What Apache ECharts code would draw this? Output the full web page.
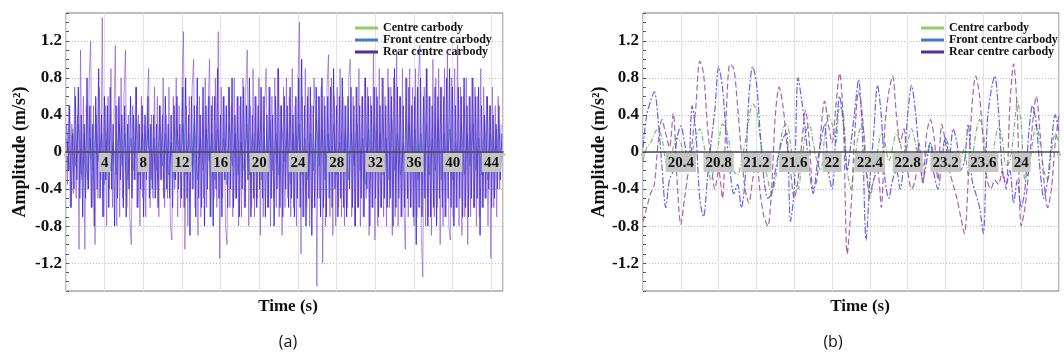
<!DOCTYPE html>
<html>
<head>
<meta charset="utf-8">
<title>Carbody vibration</title>
<script src="https://cdn.jsdelivr.net/npm/echarts/dist/echarts.min.js"></script>
<style>
    html, body { margin: 0; padding: 0; background: #fff; }
    #main { width: 1064px; height: 355px; }
</style>
</head>
<body>
<div id="main"></div>
<script>

    // series names (legend)
    var names = ['Centre carbody', 'Front centre carbody', 'Rear centre carbody']

    // (a) whole record
    var stepCentreA = 0.3
    var stepA = 0.15
    var centreA = [
        0.1, -0.2, 0.25, -0.15, 0.3, -0.25, 0.2, -0.3, 0.15, -0.2,
        0.3, -0.1, 0.2, -0.35, 0.25, -0.2, 0.1, -0.25, 0.3, -0.15,
        0.2, -0.3, 0.15, -0.2, 0.35, -0.25, 0.2, -0.1, 0.25, -0.3,
        0.15, -0.2, 0.3, -0.15, 0.2, -0.25, 0.1, -0.3, 0.25, -0.2,
        0.3, -0.25, 0.2, -0.15, 0.35, -0.3, 0.15, -0.2, 0.25, -0.1,
        0.2, -0.3, 0.25, -0.2, 0.15, -0.35, 0.3, -0.15, 0.2, -0.25,
        0.1, -0.2, 0.3, -0.25, 0.2, -0.15, 0.25, -0.3, 0.15, -0.2,
        0.35, -0.2, 0.2, -0.25, 0.3, -0.1, 0.25, -0.35, 0.2, -0.15,
        0.3, -0.25, 0.15, -0.3, 0.2, -0.2, 0.35, -0.15, 0.25, -0.3,
        0.2, -0.15, 0.3, -0.25, 0.1, -0.2, 0.25, -0.3, 0.2, -0.15,
        0.3, -0.2, 0.15, -0.35, 0.25, -0.2, 0.3, -0.15, 0.2, -0.25,
        0.15, -0.3, 0.35, -0.2, 0.2, -0.25, 0.1, -0.2, 0.3, -0.15,
        0.25, -0.3, 0.2, -0.15, 0.3, -0.25, 0.15, -0.2, 0.35, -0.3,
        0.2, -0.15, 0.25, -0.3, 0.1, -0.2, 0.3, -0.25, 0.2, -0.15,
        0.3, -0.2, 0.15, -0.25, 0.35, -0.3, 0.2, -0.15, 0.25, -0.2,
        0.1
    ]
    var frontA = [
        0.3, -0.2, 0.5, -0.6, 0.2, -0.4, 0.6, -0.3, 0.7, -0.5, 0.4, -0.7, 0.3, -0.5, 0.8, -0.4, 0.5, -0.6, 0.3, -0.8,
        0.6, -0.4, 0.9, -0.5, 0.4, -0.7, 0.6, -0.3, 0.5, -0.6, 0.7, -0.4, 0.3, -0.8, 0.5, -0.5, 0.6, -0.3, 0.4, -0.6,
        0.5, -0.7, 0.3, -0.4, 0.6, -0.5, 0.4, -0.3, 0.7, -0.6, 0.3, -0.4, 0.5, -0.7, 0.4, -0.3, 0.6, -0.5, 0.3, -0.4,
        0.4, -0.5, 0.3, -0.6, 0.5, -0.3, 0.4, -0.5, 0.6, -0.4, 0.3, -0.5, 0.4, -0.6, 0.5, -0.3, 0.6, -0.4, 0.3, -0.5,
        0.7, -0.6, 0.8, -0.5, 0.4, -0.9, 0.6, -0.4, 0.5, -0.7, 0.8, -0.5, 0.4, -0.6, 0.7, -0.8, 0.5, -0.4, 0.6, -0.7,
        0.5, -0.8, 0.6, -0.4, 0.9, -0.5, 0.4, -0.7, 0.6, -0.3, 0.5, -0.6, 0.7, -0.4, 0.8, -0.6, 0.4, -0.5, 0.6, -0.7,
        0.6, -0.4, 0.7, -0.6, 0.5, -0.3, 0.8, -0.7, 0.4, -0.5, 0.6, -0.6, 0.5, -0.4, 0.7, -0.5, 0.6, -0.7, 0.4, -0.6,
        0.7, -0.5, 0.4, -0.8, 0.6, -0.4, 0.9, -0.6, 0.5, -0.7, 0.6, -0.4, 0.5, -0.6, 0.7, -0.5, 0.4, -0.7, 0.6, -0.5,
        0.8, -0.6, 1.0, -0.7, 0.5, -0.8, 0.6, -0.5, 0.7, -0.9, 0.5, -0.6, 0.7, -0.5, 0.6, -0.7, 0.8, -0.6, 0.5, -0.7,
        0.6, -0.5, 0.7, -0.6, 0.9, -0.4, 0.5, -0.7, 0.6, -0.5, 0.8, -0.6, 0.5, -0.7, 0.6, -0.4, 0.7, -0.6, 0.5, -0.8,
        0.7, -0.6, 0.5, -0.5, 0.6, -0.7, 0.8, -0.4, 0.6, -0.8, 0.5, -0.6, 0.7, -0.5, 0.6, -0.7, 0.5, -0.6, 0.8, -0.5,
        0.5, -0.6, 0.7, -0.5, 0.6, -0.8, 0.9, -0.6, 0.7, -0.5, 0.6, -0.7, 0.5, -0.6, 0.8, -0.5, 0.7, -0.6, 0.5, -0.7,
        0.6, -1.0, 0.7, -0.6, 0.8, -0.7, 0.6, -0.5, 0.9, -0.8, 0.6, -0.7, 0.5, -0.6, 0.7, -0.8, 0.6, -0.5, 0.7, -0.6,
        0.6, -0.7, 0.8, -0.5, 0.9, -0.6, 0.7, -0.8, 0.5, -0.6, 0.7, -0.5, 0.6, -0.7, 0.8, -0.6, 0.5, -0.7, 0.6, -0.5,
        0.8, -0.6, 0.6, -0.5, 0.7, -0.9, 0.5, -0.6, 0.4, -0.5, 0.6, -0.4, 0.5, -0.6, 0.4, -0.5, 0.3, -0.4, 0.5, -0.3,
        0.2
    ]
    var rearA = [
        0.15, -0.35, 0.5, -0.6, 0.3, -0.45, 0.7, -0.5, 0.4, -1.05, 1.1, -0.3, 0.6, -1.05, 0.5, -0.4, 0.8, 1.2, -0.6, 0.5,
        -1.0, 0.4, -0.5, 0.7, -0.3, 1.45, -0.7, 0.5, -0.8, 0.6, -0.4, 0.9, -0.6, 0.3, 1.15, -0.8, 0.5, -0.7, 0.8, -0.5,
        0.6, 1.1, -0.6, 0.4, -0.7, -1.0, 0.5, -0.3, 0.7, -0.6, 0.4, -0.8, 0.6, -0.5, 0.3, -0.7, 0.5, 0.9, -0.6, 0.4,
        -0.5, 0.7, -0.4, 0.6, -0.7, 0.5, -0.3, 0.8, -0.6, 0.4, -0.5, 0.7, -0.8, -0.95, 0.6, -0.4, 0.8, -0.7, 0.5, -0.6,
        0.7, 1.3, -1.05, 0.5, -0.8, 0.6, -0.4, 0.7, 1.0, -0.6, 0.5, -0.9, 0.6, -0.7, 0.4, -0.5, 0.8, -0.6, 0.5, 1.0,
        -0.7, 0.6, -0.5, 0.8, -0.6, 1.3, -1.15, 0.7, -0.5, 0.6, -0.8, -1.0, 0.7, -0.6, 0.5, -0.7, 0.8, -0.5, 0.6, -0.8,
        0.5, -0.7, 0.8, -0.6, 0.7, 1.1, -0.8, 0.5, -0.6, 0.9, -0.7, 0.6, -0.5, 0.8, -0.9, 0.6, -0.7, 0.5, 0.9, -0.6,
        0.7, -0.8, 0.6, -0.5, 0.8, -0.6, 0.9, -0.7, 0.5, -0.9, 0.7, -0.6, 0.8, -0.5, 0.6, -0.7, 0.9, -0.6, 0.5, -0.8,
        0.8, 1.4, -1.1, 0.6, -0.7, 0.9, -0.6, 0.7, -0.8, 0.5, -0.6, 0.8, 0.4, -1.45, 0.6, -0.5, 0.7, -1.2, 0.6, -0.8,
        0.7, 1.05, -0.7, 0.8, -0.9, 0.6, -0.8, 0.7, -0.6, 0.9, -0.7, 0.6, -0.8, 0.5, -0.6, 0.8, 1.0, -0.7, 0.6, -0.8,
        0.7, -0.6, 0.9, -0.8, 0.6, -0.7, 0.8, -0.5, 0.7, -0.9, 0.6, -0.6, 1.1, -0.95, 0.7, -0.8, 0.9, -0.6, 0.8, -0.7,
        0.6, -0.8, 0.9, -0.6, 0.7, -0.9, 0.8, -0.7, 1.1, -0.8, 0.6, -0.7, 0.9, -0.6, -1.05, 0.8, -0.7, 0.9, -0.6, 0.7,
        -0.8, 0.9, -0.7, 0.8, 1.15, -0.9, -1.35, 0.7, -0.8, 0.9, -0.7, 0.6, -0.9, 1.0, -0.7, 0.8, -0.6, 0.9, -1.0, 0.7,
        -0.8, 0.9, -0.7, 1.1, -0.8, -0.95, 0.8, -0.7, 0.9, -0.6, 1.15, -0.8, 0.7, -0.9, 0.6, -0.7, 0.8, -1.0, 0.6, -0.7,
        0.8, -0.6, 0.7, -0.8, 0.6, -0.7, 0.9, -0.6, 0.7, -0.5, 0.6, -0.8, 0.5, -1.15, 0.7, -0.6, 0.5, -0.7, 0.6, -0.4,
        0.3
    ]

    // (b) zoom 20 s - 24.4 s, sampled every 0.04 s
    var startB = 20
    var stepB = 0.04
    var centreB = [
        -0.10, 0.05, 0.10, 0.20, 0.25, 0.15, -0.10, -0.20, 0.05, 0.15,
        0.10, -0.10, -0.20, 0.00, 0.15, 0.25, 0.10, -0.15, -0.30, -0.10,
        0.10, 0.30, 0.25, 0.05, -0.20, -0.25, -0.10, 0.10, 0.35, 0.52,
        0.45, 0.15, -0.10, -0.30, -0.45, -0.30, 0.00, 0.25, 0.30, 0.10,
        -0.30, -0.40, -0.10, 0.20, 0.30, 0.10, -0.10, -0.20, 0.15, 0.40,
        0.30, 0.10, 0.50, 0.40, -0.20, -0.40, -0.10, 0.20, 0.30, -0.10,
        -0.50, -0.30, 0.00, 0.20, 0.10, -0.10, 0.05, 0.20, 0.10, -0.10,
        0.10, 0.25, 0.10, -0.10, -0.15, 0.00, 0.10, -0.05, -0.20, 0.00,
        0.15, 0.05, -0.10, -0.20, -0.10, 0.05, -0.25, -0.10, 0.20, 0.35,
        0.20, -0.10, -0.20, 0.10, 0.27, 0.15, -0.15, -0.10, 0.20, 0.55,
        0.30, -0.30, -0.20, 0.10, 0.30, 0.10, -0.20, -0.30, 0.00, 0.20,
        0.10
    ]
    var frontB = [
        0.05, 0.40, 0.55, 0.65, 0.35, -0.15, -0.60, -0.30, -0.20, 0.15,
        0.28, 0.10, -0.20, 0.50, 0.20, -0.50, -0.70, -0.30, 0.10, 0.45,
        0.92, 0.70, 0.20, -0.20, -0.45, -0.35, -0.60, -0.30, 0.60, 0.92,
        0.75, 0.20, -0.30, -0.50, -0.45, -0.20, 0.00, 0.15, 0.20, -0.75,
        -0.40, 0.80, 0.55, 0.20, -0.20, -0.45, -0.15, 0.10, 0.30, -0.20,
        -0.40, 0.20, 0.60, 0.30, -0.20, 0.10, 0.45, 0.78, 0.20, -0.95,
        -0.30, 0.20, 0.72, 0.40, -0.30, -0.50, -0.30, -0.20, -0.40, -0.10,
        0.40, 0.72, 0.45, 0.00, -0.30, -0.10, 0.10, -0.25, -0.40, -0.10,
        0.15, -0.05, 0.25, 0.10, -0.20, -0.10, 0.30, -0.30, -0.45, -0.60,
        -0.88, 0.30, 0.65, 0.82, 0.45, -0.20, -0.35, -0.20, -0.55, -0.30,
        -0.60, -0.40, 0.20, 0.50, 0.30, -0.20, -0.50, -0.30, 0.10, 0.40,
        0.20
    ]
    var rearB = [
        -0.75, -0.60, -0.45, -0.35, 0.10, 0.35, 0.20, 0.05, 0.42, -0.30,
        -0.78, -0.50, -0.20, 0.10, 0.50, 0.98, 0.85, 0.30, -0.10, -0.40,
        -0.20, -0.50, 0.40, 0.95, 0.90, 0.50, 0.00, -0.40, -0.55, -0.30,
        -0.10, -0.45, -0.70, -0.80, -0.40, 0.40, 0.70, 0.50, 0.10, -0.20,
        -0.50, -0.30, 0.10, 0.45, 0.10, -0.40, -0.30, 0.20, 0.55, 0.30,
        0.10, 0.50, 0.85, 0.30, -1.10, -0.60, 0.20, 0.65, 0.40, -0.20,
        -0.45, -0.30, -0.20, -0.60, 0.30, 0.65, 0.82, 0.40, 0.10, 0.25,
        -0.20, -0.40, -0.30, 0.10, -0.35, 0.20, 0.35, 0.15, -0.30, 0.30,
        0.10, -0.20, -0.35, -0.50, -0.70, -0.88, -0.30, 0.50, 0.82, 0.60,
        0.10, -0.30, -0.40, -0.30, -0.35, -0.20, -0.40, 0.50, 0.95, 0.40,
        -0.80, -0.60, -0.20, 0.30, 0.60, 0.20, -0.30, -0.60, -0.40, 0.10,
        0.40
    ]

    // tick labels
    var yTicks = [-1.2, -0.8, -0.4, 0, 0.4, 0.8, 1.2]

    function pairs (t0, step, vals) {
        return vals.map(function (v, i) {
            return [+(t0 + i * step).toFixed(3), v]
        })
    }

    var serif = '"Liberation Serif", "DejaVu Serif", serif'
    var legendColors = ['#8fd164', '#4a78c8', '#5b2a90']
    var plotH = 278

    function legendFor (left) {
        return {
            left: left, top: 17, orient: 'vertical',
            itemGap: 0, itemWidth: 23, itemHeight: 3,
            icon: 'rect',
            textStyle: { fontFamily: serif, fontSize: 12, fontWeight: 'bold', color: '#111', lineHeight: 12 },
            data: names.map(function (n, i) {
                return { name: n, itemStyle: { color: legendColors[i] } }
            })
        }
    }

    function yAxisFor (grid, gap) {
        return {
            type: 'value', gridIndex: grid, min: -1.5, max: 1.5,
            name: 'Amplitude (m/s²)', nameLocation: 'middle', nameGap: gap,
            nameTextStyle: { fontFamily: serif, fontSize: 18, fontWeight: 'bold', color: '#111' },
            axisLine: { show: false },
            axisTick: { show: false, customValues: yTicks },
            axisLabel: {
                customValues: yTicks, margin: 4,
                fontFamily: serif, fontSize: 17, fontWeight: 'bold', color: '#111',
                formatter: function (v) { return v === 0 ? '0' : v.toFixed(1) }
            },
            splitLine: { show: true, lineStyle: { color: '#bdbdbd', type: [1, 2] } }
        }
    }

    // little inside ticks along the left edge
    function minorAxisFor (grid) {
        return {
            type: 'value', gridIndex: grid, min: -1.5, max: 1.5, interval: 0.1,
            position: 'left',
            axisLine: { show: false },
            axisTick: { show: true, inside: true, length: 3, lineStyle: { color: '#555' } },
            axisLabel: { show: false },
            splitLine: { show: false }
        }
    }

    // time axis for the data: only the vertical grid lines, under the curves
    function xAxisFor (grid, min, max, interval) {
        return {
            type: 'value', gridIndex: grid, min: min, max: max, interval: interval,
            axisLine: { show: false },
            axisTick: { show: false },
            axisLabel: { show: false },
            splitLine: { show: true, lineStyle: { color: '#e2e2e2' } }
        }
    }

    // same scale again, drawn on top: zero line and the boxed labels,
    // half a plot height above the bottom edge
    function xLabelAxisFor (grid, min, max, interval) {
        return {
            type: 'value', gridIndex: grid, min: min, max: max, interval: interval,
            position: 'bottom', offset: -plotH / 2, z: 20,
            axisLine: { onZero: false, lineStyle: { color: '#4a4a4a', width: 1.5 } },
            axisTick: { show: false },
            splitLine: { show: false },
            axisLabel: {
                margin: 1, color: '#111', fontFamily: serif, fontSize: 15, fontWeight: 'bold',
                backgroundColor: '#c6c6c6', padding: [2, 2, 1, 2], lineHeight: 16,
                formatter: function (v) {
                    if (v <= min + 1e-6 || v >= max - 1e-6) return ''
                    return String(parseFloat(v.toFixed(1)))
                }
            }
        }
    }

    function titleAt (text, x, y, font, size, weight) {
        return {
            text: text, left: x, top: y, textAlign: 'center',
            textStyle: { fontFamily: font, fontSize: size, fontWeight: weight, color: '#111' }
        }
    }

    var myChart = echarts.init(document.getElementById('main'), null, { renderer: 'canvas' })

    myChart.setOption({
        animation: false,
        backgroundColor: '#fff',
        title: [
            titleAt('Time (s)', 283, 293, serif, 17, 'bold'),
            titleAt('Time (s)', 855, 293, serif, 17, 'bold'),
            titleAt('(a)', 283, 329, '"Open Sans", "Noto Sans", sans-serif', 16, 'normal'),
            titleAt('(b)', 828, 329, '"Open Sans", "Noto Sans", sans-serif', 16, 'normal')
        ],
        legend: [legendFor(350), legendFor(916)],
        grid: [
            { left: 66, top: 13, width: 437, height: plotH, show: true, borderColor: '#7a7a7a', borderWidth: 1 },
            { left: 643, top: 13, width: 462, height: plotH, show: true, borderColor: '#7a7a7a', borderWidth: 1 }
        ],
        xAxis: [
            xAxisFor(0, 0, 45.2, 4),
            xAxisFor(1, 20, 24.4, 0.4),
            xLabelAxisFor(0, 0, 45.2, 4),
            xLabelAxisFor(1, 20, 24.4, 0.4)
        ],
        yAxis: [
            yAxisFor(0, 37),
            yAxisFor(1, 34),
            minorAxisFor(0),
            minorAxisFor(1)
        ],
        series: [
            { name: names[0], type: 'line', xAxisIndex: 0, yAxisIndex: 0, showSymbol: false, z: 2,
              lineStyle: { width: 1, color: '#3b9b72', opacity: 0.6 }, itemStyle: { color: legendColors[0] },
              data: pairs(0.1, stepCentreA, centreA) },
            { name: names[1], type: 'line', xAxisIndex: 0, yAxisIndex: 0, showSymbol: false, z: 3,
              lineStyle: { width: 1, color: '#2626dc', opacity: 0.8 }, itemStyle: { color: legendColors[1] },
              data: pairs(0.075, stepA, frontA) },
            { name: names[2], type: 'line', xAxisIndex: 0, yAxisIndex: 0, showSymbol: false, z: 4,
              lineStyle: { width: 1, color: '#7d3cc4', opacity: 0.55 }, itemStyle: { color: legendColors[2] },
              data: pairs(0, stepA, rearA) },

            { name: names[0], type: 'line', xAxisIndex: 1, yAxisIndex: 1, showSymbol: false, smooth: 0.3, z: 2,
              lineStyle: { width: 1.2, color: '#58b05a', type: [5, 2, 1, 2], opacity: 0.85 }, itemStyle: { color: legendColors[0] },
              data: pairs(startB, stepB, centreB) },
            { name: names[1], type: 'line', xAxisIndex: 1, yAxisIndex: 1, showSymbol: false, smooth: 0.3, z: 3,
              lineStyle: { width: 1.2, color: '#3f3fe6', type: [7, 2, 2, 2], opacity: 0.8 }, itemStyle: { color: legendColors[1] },
              data: pairs(startB, stepB, frontB) },
            { name: names[2], type: 'line', xAxisIndex: 1, yAxisIndex: 1, showSymbol: false, smooth: 0.3, z: 4,
              lineStyle: { width: 1.2, color: '#a1479e', type: [6, 3], opacity: 0.85 }, itemStyle: { color: legendColors[2] },
              data: pairs(startB, stepB, rearB) }
        ]
    })

</script>
</body>
</html>
